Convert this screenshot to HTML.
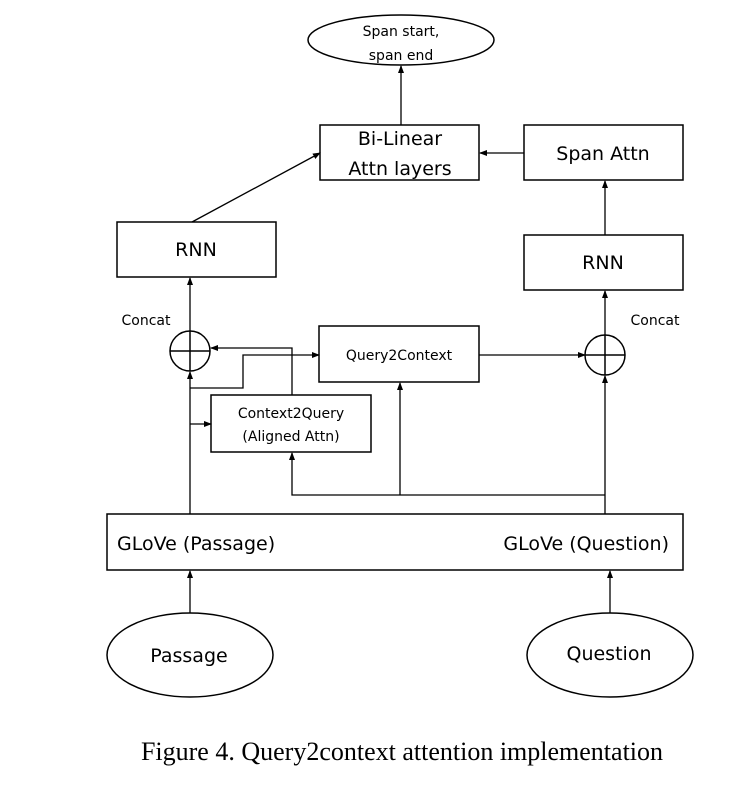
<!DOCTYPE html>
<html><head><style>
body{margin:0;background:#fff;}
svg text{font-family:"DejaVu Sans","Liberation Sans",sans-serif;fill:#000;}
</style></head><body>
<svg width="750" height="783" viewBox="0 0 750 783" xmlns="http://www.w3.org/2000/svg">
<defs><marker id="a" markerWidth="8" markerHeight="8" refX="7" refY="4" orient="auto" markerUnits="userSpaceOnUse"><path d="M0,1 L8,4 L0,7 z" fill="#000"/></marker></defs>
<g fill="none" stroke="#000" stroke-width="1.5">
<ellipse cx="401" cy="40" rx="93" ry="25"/>
<rect x="320" y="125" width="159" height="55"/>
<rect x="524" y="125" width="159" height="55"/>
<rect x="117" y="222" width="159" height="55"/>
<rect x="524" y="235" width="159" height="55"/>
<rect x="319" y="326" width="160" height="56"/>
<rect x="211" y="395" width="160" height="57"/>
<rect x="107" y="514" width="576" height="56"/>
<circle cx="190" cy="351" r="20"/><line x1="170" y1="351" x2="210" y2="351"/><line x1="190" y1="331" x2="190" y2="371"/>
<circle cx="605" cy="355" r="20"/><line x1="585" y1="355" x2="625" y2="355"/><line x1="605" y1="335" x2="605" y2="375"/>
<ellipse cx="190" cy="655" rx="83" ry="42"/>
<ellipse cx="610" cy="655" rx="83" ry="42"/>
</g>
<g fill="none" stroke="#000" stroke-width="1.3" marker-end="url(#a)">
<line x1="190" y1="514" x2="190" y2="372"/>
<line x1="190" y1="331" x2="190" y2="278"/>
<line x1="192" y1="222" x2="320" y2="153"/>
<line x1="401" y1="125" x2="401" y2="66"/>
<line x1="524" y1="153" x2="480" y2="153"/>
<line x1="605" y1="235" x2="605" y2="181"/>
<line x1="605" y1="335" x2="605" y2="291"/>
<polyline points="190,388 243,388 243,355 319,355"/>
<line x1="190" y1="424" x2="211" y2="424"/>
<polyline points="292,395 292,348 211,348"/>
<line x1="479" y1="355" x2="585" y2="355"/>
<line x1="605" y1="514" x2="605" y2="376"/>
<polyline points="605,495 292,495 292,453"/>
<line x1="400" y1="495" x2="400" y2="383"/>
<line x1="190" y1="613" x2="190" y2="571"/>
<line x1="610" y1="613" x2="610" y2="571"/>
</g>
<g text-anchor="middle">
<text x="401" y="36" font-size="14">Span start,</text>
<text x="401" y="60" font-size="14">span end</text>
<text x="400" y="145" font-size="19">Bi-Linear</text>
<text x="400" y="175" font-size="19">Attn layers</text>
<text x="603" y="160" font-size="19">Span Attn</text>
<text x="196" y="256" font-size="19">RNN</text>
<text x="603" y="269" font-size="19">RNN</text>
<text x="399" y="360" font-size="14">Query2Context</text>
<text x="291" y="418" font-size="14">Context2Query</text>
<text x="291" y="441" font-size="14">(Aligned Attn)</text>
<text x="146" y="325" font-size="14">Concat</text>
<text x="655" y="325" font-size="14">Concat</text>
<text x="189" y="662" font-size="19">Passage</text>
<text x="609" y="660" font-size="19">Question</text>
<text x="402" y="760" font-size="26" style="font-family:'Liberation Serif',serif">Figure 4. Query2context attention implementation</text>
</g>
<text x="117" y="550" font-size="19">GLoVe (Passage)</text>
<text x="669" y="550" font-size="19" text-anchor="end">GLoVe (Question)</text>
</svg>
</body></html>
